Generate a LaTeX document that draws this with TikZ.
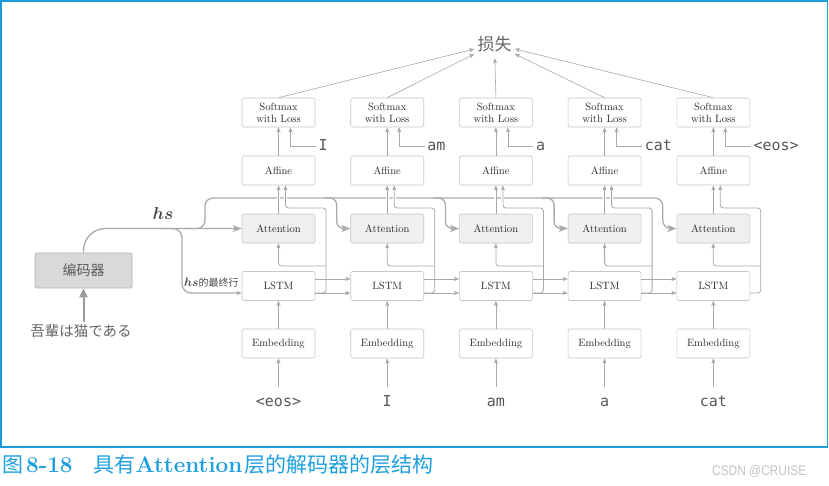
\documentclass[tikz,border=0pt]{standalone}
\usepackage{amsmath}
\usepackage{fontspec}
\newfontfamily\cjk{Noto Sans CJK SC}
\newfontfamily\jpf{Noto Sans CJK JP}
\newfontfamily\monof{DejaVu Sans Mono}
\newfontfamily\wmf{Liberation Sans}
\usetikzlibrary{arrows.meta,calc}
\definecolor{ln}{HTML}{A8A8A8}
\definecolor{hsc}{HTML}{ABABAB}
\definecolor{boxc}{HTML}{C6C6C6}
\definecolor{attfill}{HTML}{EFEFEF}
\definecolor{encfill}{HTML}{D9D9D9}
\definecolor{encline}{HTML}{B3B3B3}
\definecolor{txt}{HTML}{2A2A2A}
\definecolor{gtxt}{HTML}{666666}
\definecolor{frameblue}{HTML}{1B9BD8}
\definecolor{capblue}{HTML}{1EA0E0}
\definecolor{wmc}{HTML}{C4C4C4}
\definecolor{srcarrow}{HTML}{9C9C9C}
\tikzset{
  box/.style={draw=boxc, line width=0.6pt, rounded corners=1.5pt, fill=white,
    minimum width=73pt, minimum height=29pt, inner sep=0pt, align=center,
    font=\fontsize{10.6}{12}\selectfont, text=txt},
  attbox/.style={box, fill=attfill},
  encbox/.style={draw=encline, line width=0.7pt, rounded corners=2pt, fill=encfill,
    minimum width=97pt, minimum height=35pt, inner sep=0pt,
    font=\cjk\fontsize{14}{16}\selectfont, text=gtxt!90!black},
  word/.style={font=\monof\fontsize{15}{17}\selectfont, text=gtxt!85!black,
    inner xsep=2.5pt, inner ysep=0pt, text height=11pt, text depth=3pt},
  lnk/.style={draw=ln, line width=0.8pt},
  hsline/.style={draw=hsc, line width=1.3pt},
  sarr/.style={-{Stealth[length=5pt,width=4pt,inset=1pt]}},
  barr/.style={-{Stealth[length=9pt,width=7pt,inset=2pt]}},
}
\begin{document}
\begin{tikzpicture}[x=1pt,y=-1pt]
\fill[white] (0,0) rectangle (829,485);
\useasboundingbox (0,0) rectangle (829,485);
\draw[frameblue, line width=1.2pt] (1,1) rectangle (827.5,447);

% loss
\node[font=\cjk\fontsize{17}{20}\selectfont, text=gtxt, minimum width=40pt,
      minimum height=28pt, inner sep=0pt] (loss) at (494.5,44) {损失};

% columns
\foreach \i/\c/\w/\t in {1/278.5/{<eos>}/I,2/387.2/I/am,3/495.9/am/a,4/604.6/a/cat,5/713.3/cat/{<eos>}}{
  \node[box] (sm\i) at (\c,112.5) {Softmax\\with Loss};
  \node[box] (af\i) at (\c,170.5) {Affine};
  \node[attbox] (at\i) at (\c,228.5) {Attention};
  \node[box] (ls\i) at (\c,286) {LSTM};
  \node[box] (em\i) at (\c,343.5) {Embedding};
  \node[word, anchor=base] (in\i) at (\c,406) {\w};
  \node[word, anchor=base west] (tg\i) at (\c+37.5,150) {\t};
}

% encoder
\node[encbox] (enc) at (83.5,270.5) {编码器};
\node[font=\jpf\fontsize{14.5}{16}\selectfont, text=gtxt, inner sep=2pt] (src) at (81,331) {吾輩は猫である};
\draw[draw=srcarrow, line width=2pt, -{Triangle[length=9pt,width=8pt]}] (enc.south |- src.north) -- (enc.south);

% hs labels
\node[font=\fontsize{16}{18}\selectfont, text=txt!85] (hs) at (163,213) {$\boldsymbol{hs}$};
\node[anchor=west, inner sep=0pt, text=txt!85] (hsl) at (184,283)
  {{\fontsize{12}{14}\selectfont$\boldsymbol{hs}$}{\cjk\fontsize{10}{12}\selectfont 的最终行}};

% hs paths
\draw[hsline, rounded corners=22pt, barr] (enc.north) |- (at1.west);
\draw[hsline, rounded corners=9pt, sarr] (160,228.5) -- (182,228.5) -- (182,293) -- ($(ls1.west)+(0,7)$);
\draw[hsline, rounded corners=8pt, barr] (185,228.5) -- (205,228.5) -- (205,198) -- (662.8,198) -- (662.8,228.5) -- (at5.west);
\foreach \i/\bx in {2/336.7,3/445.4,4/554.1}{
  \draw[hsline, rounded corners=7pt, barr] (\bx-12,198) -- (\bx,198) -- (\bx,228.5) -- (at\i.west);
}
% gaps where vertical arrows cross the hs line
\foreach \c in {278.5,387.2,495.9,604.6}{
  \draw[white, line width=3pt] (\c,193.5) -- (\c,202.5);
  \draw[white, line width=3pt] (\c+7,193.5) -- (\c+7,202.5);
}

% per-column connectors
\foreach \i/\c in {1/278.5,2/387.2,3/495.9,4/604.6,5/713.3}{
  \draw[lnk, sarr] (in\i.north) ++(0,-8) -- (em\i.south);
  \draw[lnk, sarr] (em\i) -- (ls\i);
  \draw[lnk, sarr] (at\i) -- (af\i);
  \draw[lnk, sarr] (af\i) -- (sm\i);
  \draw[lnk, sarr] (tg\i.west) -| ($(sm\i.south)+(12,0)$);
  \draw[lnk, rounded corners=3pt, sarr] ($(ls\i.east)+(0,7)$) -- (\c+47.5,293) -- (\c+47.5,208) -- (\c+7,208) -- ($(af\i.south)+(7,0)$);
  \draw[lnk, rounded corners=3pt, sarr] (\c+47.5,266) -| (at\i.south);
  \draw[lnk, line width=0.6pt, sarr] (sm\i.north) -- (loss);
}
\foreach \i/\j in {1/2,2/3,3/4,4/5}{
  \draw[lnk, sarr] ($(ls\i.east)+(0,-7)$) -- ($(ls\j.west)+(0,-7)$);
  \draw[lnk, sarr] ($(ls\i.east)+(0,7)$) -- ($(ls\j.west)+(0,7)$);
}

% caption
\node[anchor=base west, inner sep=0pt, text=capblue] (cap) at (2,472.5)
  {{\cjk\fontsize{21}{24}\selectfont 图}\hspace{3pt}{\bfseries\fontsize{22.5}{24}\selectfont 8-18}{\cjk\fontsize{21}{24}\selectfont 　具有}{\bfseries\fontsize{22.5}{24}\selectfont Attention}\hspace{2pt}{\cjk\fontsize{21}{24}\selectfont 层的解码器的层结构}};
\node[anchor=base west, inner sep=0pt, text=wmc] (wm) at (712,475)
  {\scalebox{0.85}[1]{\wmf\fontsize{14}{16}\selectfont CSDN @CRUISE}};
\end{tikzpicture}
\end{document}
